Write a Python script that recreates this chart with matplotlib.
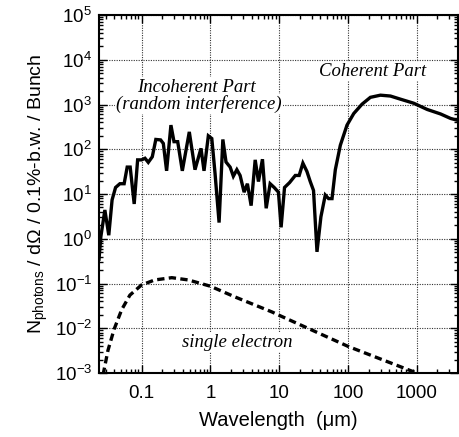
import matplotlib
matplotlib.use('Agg')
import matplotlib.pyplot as plt
from matplotlib.ticker import LogLocator, NullFormatter

# wavelength (um) and photons per bunch
wl_bunch = [0.024, 0.0255, 0.0292, 0.0333, 0.0372, 0.0418, 0.0483, 0.0557, 0.0617,
            0.0682, 0.078, 0.0875, 0.100, 0.112, 0.125, 0.143, 0.161, 0.189, 0.207,
            0.231, 0.267, 0.296, 0.335, 0.391, 0.494, 0.598, 0.731, 0.809, 0.935,
            1.05, 1.17, 1.34, 1.52, 1.69, 1.94, 2.16, 2.43, 2.71, 3.10, 3.46, 3.92,
            4.49, 5.01, 5.73, 6.49, 7.41, 8.49, 9.79, 10.7, 12.0, 14.2, 17.2, 19.6,
            22.2, 25.4, 28.4, 31.7, 35.6, 40.6, 47.0, 52.5, 58.9, 65.8, 77.8, 97.3,
            122, 161, 213, 298, 417, 582, 910, 1430, 2230, 3120, 4120]
n_bunch = [0.35, 1.1, 4.4, 1.2, 7.4, 14, 17, 17, 40,
           40, 6.0, 58, 58, 63, 51, 68, 166, 162, 135,
           33, 347, 148, 148, 33, 245, 35, 105, 33, 200,
           174, 29, 2.3, 166, 52, 40, 25, 35, 26, 11, 17, 5.5,
           58, 19, 60, 4.8, 17, 14, 11, 1.8, 14, 18, 26, 26,
           49, 32, 19, 12, 0.51, 3.1, 9.5, 7.9, 7.9, 35, 123, 347,
           631, 1020, 1450, 1620, 1550, 1320, 1070, 776, 617, 490, 437]

wl_single = [0.0275, 0.0324, 0.0398, 0.0513, 0.0676, 0.1, 0.155, 0.275, 0.479,
             1.0, 2.29, 7.94, 10, 102, 1000]
n_single = [0.00091, 0.0032, 0.0095, 0.026, 0.055, 0.093, 0.12, 0.135, 0.12,
            0.087, 0.050, 0.023, 0.0195, 0.0039, 0.001]

xticks = [0.1, 1, 10, 100, 1000]
xlabels = ['0.1', '1', '10', '100', '1000']

plt.rcParams['font.family'] = ['Liberation Sans', 'DejaVu Sans']
plt.rcParams['mathtext.fontset'] = 'custom'
plt.rcParams['mathtext.rm'] = 'Liberation Sans'

fig = plt.figure(figsize=(4.59, 4.37), dpi=100)
ax = fig.add_axes([0.2157, 0.1465, 0.782, 0.819])

ax.plot(wl_bunch, n_bunch, color='black', lw=2.4, solid_joinstyle='miter', zorder=3)
ax.plot(wl_single, n_single, color='black', lw=2.4, linestyle=(0, (2.2, 1.3)), zorder=3)

ax.set_xscale('log')
ax.set_yscale('log')
ax.set_xlim(0.024, 4000)
ax.set_ylim(1e-3, 1e5)

ax.set_xticks(xticks)
ax.set_xticklabels(xlabels)
ax.xaxis.set_minor_locator(LogLocator(base=10, subs=range(2, 10), numticks=20))
ax.xaxis.set_minor_formatter(NullFormatter())
ax.yaxis.set_major_locator(LogLocator(base=10, numticks=20))
ax.yaxis.set_minor_locator(LogLocator(base=10, subs=range(2, 10), numticks=20))
ax.yaxis.set_minor_formatter(NullFormatter())

ax.tick_params(which='both', direction='in', top=True, right=True, width=1.0)
ax.tick_params(which='major', length=6, labelsize=13.5)
ax.tick_params(axis='x', which='major', pad=9)
ax.tick_params(axis='y', which='major', pad=5)
ax.tick_params(which='minor', length=3)
for s in ax.spines.values():
    s.set_linewidth(1.5)

ax.grid(True, which='major', color='#333333', lw=0.8, linestyle=(0, (1, 1.2)))

ax.set_xlabel('Wavelength  (\u03bcm)', fontsize=14.5, labelpad=6)
ax.set_ylabel('N$_{\\mathrm{photons}}$ / d\u03a9 / 0.1%-b.w. / Bunch', fontsize=14, labelpad=3)

box = dict(facecolor='white', edgecolor='none', pad=1)
tfont = dict(family='Liberation Serif', style='italic', fontsize=13.5)
ax.text(0.634, 2450, 'Incoherent Part', ha='center', va='center', bbox=box, **tfont)
ax.text(0.68, 1020, '(random interference)', ha='center', va='center', bbox=box, **tfont)
ax.text(228, 5450, 'Coherent Part', ha='center', va='center', bbox=box, **tfont)
ax.text(2.5, 0.0049, 'single electron', ha='center', va='center', bbox=box, **tfont)

fig.savefig('out.png', dpi=100)
